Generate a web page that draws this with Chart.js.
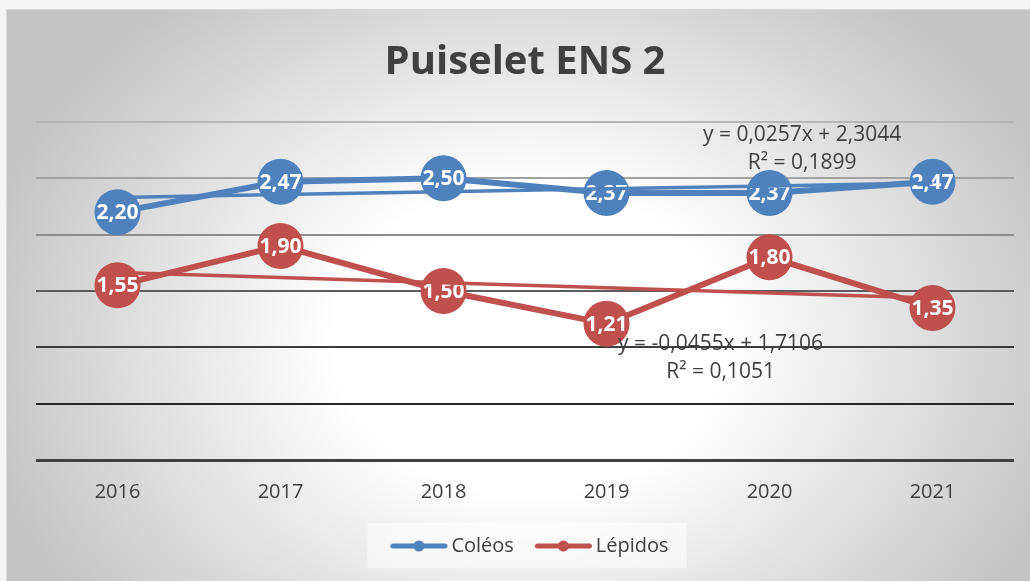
<!DOCTYPE html>
<html><head><meta charset="utf-8">
<script src="https://cdn.jsdelivr.net/npm/chart.js@4.4.1/dist/chart.umd.min.js"></script>
<style>html,body{margin:0;padding:0;background:#f4f4f4;overflow:hidden}#wrap{width:1030px;height:581px;position:relative}</style>
</head><body><div id="wrap"><canvas id="c" width="1030" height="581"></canvas></div>
<script>
const years = ['2016', '2017', '2018', '2019', '2020', '2021'];
const coleos = [2.20, 2.47, 2.50, 2.37, 2.37, 2.47];
const lepidos = [1.55, 1.90, 1.50, 1.21, 1.80, 1.35];
const seriesNames = ['Coléos', 'Lépidos'];
const trendSlopes = [0.0257, -0.0455];
const trendIntercepts = [2.3044, 1.7106];
const trendR2 = [0.1899, 0.1051];
const yTicks = [0, 0.5, 1, 1.5, 2, 2.5, 3];

const FONT = "'Open Sans', sans-serif";
Chart.defaults.font.family = FONT;
Chart.defaults.color = '#404040';
const BLUE = '#4f81bd', RED = '#c0504d';
const colors = [BLUE, RED];

function trendData(i) { return years.map((_, k) => trendIntercepts[i] + trendSlopes[i] * (k + 1)); }
function fmt(v) { return Math.abs(v).toFixed(4).replace('.', ','); }
function eqText(i) { return 'y = ' + (trendSlopes[i] < 0 ? '-' : '') + fmt(trendSlopes[i]) + 'x + ' + fmt(trendIntercepts[i]); }
function r2Text(i) { return 'R² = ' + fmt(trendR2[i]); }
// label anchor positions in data space (category index, value, value)
const eqAnchors = [[4.2, 2.885, 2.64], [3.7, 1.03, 0.78]];

function legendIcon(color) {
  const c = document.createElement('canvas'); c.width = 74; c.height = 14;
  const x = c.getContext('2d');
  x.strokeStyle = color; x.lineWidth = 5; x.lineCap = 'round';
  x.beginPath(); x.moveTo(18.5, 7); x.lineTo(70.5, 7); x.stroke();
  x.fillStyle = color; x.beginPath(); x.arc(44.5, 7, 5.5, 0, Math.PI * 2); x.fill();
  return c;
}
const icons = [legendIcon(BLUE), legendIcon(RED)];

const gridColor = {0: '#404040', 0.5: '#262626', 1: '#3c3c3c', 1.5: '#5c5c5c', 2: '#8c8c8c', 2.5: '#a2a2a2', 3: '#b6b6b6'};

const bgPlugin = {
  id: 'bg',
  beforeDraw(chart) {
    const ctx = chart.ctx, W = chart.width, H = chart.height;
    ctx.save();
    ctx.fillStyle = '#f5f5f5'; ctx.fillRect(0, 0, W, H);
    const fx = 6, fy = 9;
    ctx.save();
    ctx.beginPath(); ctx.rect(fx, fy, W - fx, H - fy); ctx.clip();
    const cx = 530, cy = 340, rx = 560, ry = 440;
    ctx.translate(cx, cy); ctx.scale(1, ry / rx);
    const g = ctx.createRadialGradient(0, 0, 0, 0, 0, rx);
    g.addColorStop(0, '#ffffff'); g.addColorStop(0.35, '#ffffff'); g.addColorStop(1, '#c4c4c4');
    ctx.fillStyle = g; ctx.fillRect(-cx - 10, -rx * 2, W + 20, rx * 4);
    ctx.restore();
    ctx.strokeStyle = '#d8d8d8'; ctx.lineWidth = 1;
    ctx.beginPath(); ctx.moveTo(fx + 0.5, H); ctx.lineTo(fx + 0.5, fy + 0.5); ctx.lineTo(W, fy + 0.5); ctx.stroke();
    const hb = chart.legend && chart.legend.legendHitBoxes;
    if (hb && hb.length) {
      const last = hb[hb.length - 1];
      const l = hb[0].left - 14, r = last.left + last.width + 18;
      const mid = hb[0].top + hb[0].height / 2;
      ctx.fillStyle = 'rgba(255,255,255,0.5)';
      ctx.fillRect(l, mid - 23, r - l, 45);
    }
    ctx.restore();
  }
};

const labelPlugin = {
  id: 'vlabels',
  afterDatasetDraw(chart, args) {
    const ds = chart.data.datasets[args.index];
    if (ds.isTrend) return;
    const ctx = chart.ctx;
    ctx.save();
    ctx.font = 'bold 21px ' + FONT; ctx.fillStyle = '#ffffff';
    ctx.textAlign = 'center'; ctx.textBaseline = 'middle';
    args.meta.data.forEach((el, k) => {
      ctx.fillText(ds.data[k].toFixed(2).replace('.', ','), el.x, el.y + 1);
    });
    ctx.restore();
  },
  afterDatasetsDraw(chart) {
    const ctx = chart.ctx, xs = chart.scales.x, ys = chart.scales.y;
    ctx.save();
    ctx.font = '21px ' + FONT; ctx.fillStyle = '#404040';
    ctx.textAlign = 'center'; ctx.textBaseline = 'middle';
    [0, 1].forEach(i => {
      const a = eqAnchors[i];
      const px = xs.getPixelForValue(0) + (xs.getPixelForValue(1) - xs.getPixelForValue(0)) * a[0];
      ctx.fillText(eqText(i), px, ys.getPixelForValue(a[1]));
      ctx.fillText(r2Text(i), px, ys.getPixelForValue(a[2]));
    });
    ctx.restore();
  }
};

const mk = (i, data) => ({
  label: seriesNames[i], data: data, borderColor: colors[i], backgroundColor: colors[i],
  borderWidth: 6, borderJoinStyle: 'round', borderCapStyle: 'round',
  pointRadius: 23, pointHoverRadius: 23, pointBorderWidth: 0, pointBackgroundColor: colors[i],
  order: 2, clip: false
});
const mkTrend = (i) => ({
  label: 'trend' + i, isTrend: true, data: trendData(i), borderColor: colors[i],
  borderWidth: 3.5, pointRadius: 0, pointHoverRadius: 0, order: 1, clip: false
});

new Chart(document.getElementById('c'), {
  type: 'line',
  data: { labels: years, datasets: [mk(0, coleos), mk(1, lepidos), mkTrend(0), mkTrend(1)] },
  options: {
    responsive: false, animation: false, devicePixelRatio: 1,
    layout: { autoPadding: false, padding: { left: 36, right: 16, top: 39, bottom: 15 } },
    plugins: {
      tooltip: { enabled: false },
      title: { display: true, text: 'Puiselet ENS 2', color: '#404040', font: { size: 40, weight: 'bold', family: FONT }, padding: { top: 0, bottom: 35 } },
      legend: {
        position: 'bottom',
        labels: {
          usePointStyle: true, pointStyleWidth: 60, boxHeight: 14, padding: 12,
          font: { size: 20 }, color: '#404040',
          generateLabels: () => [0, 1].map(i => ({ text: seriesNames[i], pointStyle: icons[i], datasetIndex: i, fillStyle: colors[i], strokeStyle: colors[i], lineWidth: 0, hidden: false, fontColor: '#404040' }))
        }
      }
    },
    scales: {
      x: {
        offset: true, grid: { display: false, drawTicks: false }, border: { display: false },
        ticks: { font: { size: 20 }, color: '#404040', padding: 20 },
        afterFit: s => { s.paddingLeft = 0; s.paddingRight = 0; }
      },
      y: {
        min: 0, max: 3,
        afterBuildTicks: s => { s.ticks = yTicks.map(v => ({ value: v })); },
        ticks: { display: false },
        grid: { drawTicks: false, color: c => gridColor[c.tick.value] || '#888', lineWidth: c => c.tick.value === 0 ? 3 : 2 },
        border: { display: false }
      }
    }
  },
  plugins: [bgPlugin, labelPlugin]
});
</script></body></html>
